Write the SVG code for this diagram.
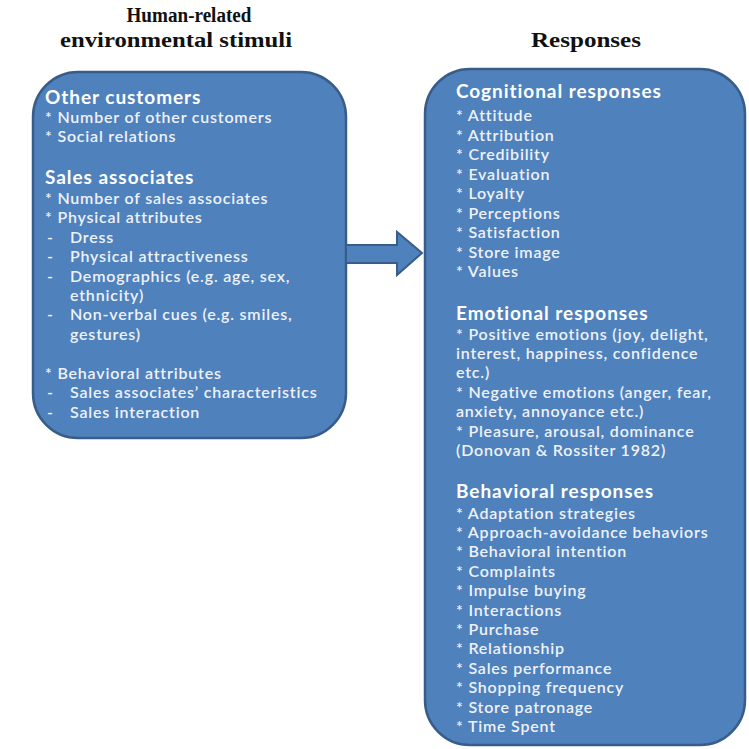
<svg xmlns="http://www.w3.org/2000/svg" width="749" height="749" viewBox="0 0 749 749">
<style>
.title{font-family:"Liberation Serif",serif;font-weight:bold;font-size:20.5px;fill:#111;text-anchor:middle}
.box{fill:#4f81bd;stroke:#385d8a;stroke-width:2.5}
.h{font-family:Lato,"Open Sans",sans-serif;font-weight:bold;font-size:19px;fill:#fff;letter-spacing:0.95px}
.t{font-family:Lato,"Open Sans",sans-serif;font-weight:600;font-size:16px;fill:#eef2f8;letter-spacing:0.8px}
</style>
<rect width="749" height="749" fill="#fff"/>
<g id="titles">
<text class="title" x="189" y="22" textLength="125" lengthAdjust="spacingAndGlyphs">Human-related</text>
<text class="title" x="176" y="47" textLength="232" lengthAdjust="spacingAndGlyphs">environmental stimuli</text>
<text class="title" x="586" y="47" textLength="110" lengthAdjust="spacingAndGlyphs">Responses</text>
</g>
<g id="stimuli">
<rect class="box" x="33" y="72" width="313" height="366" rx="45" ry="45"/>
<text class="h" x="45" y="104">Other customers</text>
<text class="t" x="45" y="123">* Number of other customers</text>
<text class="t" x="45" y="142">* Social relations</text>
<text class="h" x="45" y="184">Sales associates</text>
<text class="t" x="45" y="204">* Number of sales associates</text>
<text class="t" x="45" y="223">* Physical attributes</text>
<text class="t" x="47" y="243">-</text><text class="t" x="70" y="243">Dress</text>
<text class="t" x="47" y="262">-</text><text class="t" x="70" y="262">Physical attractiveness</text>
<text class="t" x="47" y="282">-</text><text class="t" x="70" y="282">Demographics (e.g. age, sex,</text>
<text class="t" x="70" y="301">ethnicity)</text>
<text class="t" x="47" y="320">-</text><text class="t" x="70" y="320">Non-verbal cues (e.g. smiles,</text>
<text class="t" x="70" y="340">gestures)</text>
<text class="t" x="45" y="379">* Behavioral attributes</text>
<text class="t" x="47" y="398">-</text><text class="t" x="70" y="398">Sales associates’ characteristics</text>
<text class="t" x="47" y="418">-</text><text class="t" x="70" y="418">Sales interaction</text>
</g>
<g id="connectors">
<polygon points="346,245 397,245 397,232 422,253 397,275 397,263 346,263" fill="#4f81bd" stroke="#385d8a" stroke-width="2"/>
</g>
<g id="responses">
<rect class="box" x="425" y="69" width="320" height="676" rx="45" ry="45"/>
<text class="h" x="456" y="98">Cognitional responses</text>
<text class="t" x="456" y="121">*  Attitude</text>
<text class="t" x="456" y="141">* Attribution</text>
<text class="t" x="456" y="160">* Credibility</text>
<text class="t" x="456" y="180">* Evaluation</text>
<text class="t" x="456" y="199">* Loyalty</text>
<text class="t" x="456" y="219">* Perceptions</text>
<text class="t" x="456" y="238">* Satisfaction</text>
<text class="t" x="456" y="258">* Store image</text>
<text class="t" x="456" y="277">* Values</text>
<text class="h" x="456" y="320">Emotional responses</text>
<text class="t" x="456" y="340">* Positive emotions (joy, delight,</text>
<text class="t" x="456" y="359">interest, happiness, confidence</text>
<text class="t" x="456" y="378">etc.)</text>
<text class="t" x="456" y="398">* Negative emotions (anger, fear,</text>
<text class="t" x="456" y="417">anxiety, annoyance etc.)</text>
<text class="t" x="456" y="437">* Pleasure, arousal, dominance</text>
<text class="t" x="456" y="456">(Donovan &amp; Rossiter 1982)</text>
<text class="h" x="456" y="498">Behavioral responses</text>
<text class="t" x="456" y="519">* Adaptation strategies</text>
<text class="t" x="456" y="538">* Approach-avoidance behaviors</text>
<text class="t" x="456" y="557">* Behavioral intention</text>
<text class="t" x="456" y="577">* Complaints</text>
<text class="t" x="456" y="596">* Impulse buying</text>
<text class="t" x="456" y="616">* Interactions</text>
<text class="t" x="456" y="635">* Purchase</text>
<text class="t" x="456" y="654">* Relationship</text>
<text class="t" x="456" y="674">* Sales performance</text>
<text class="t" x="456" y="693">* Shopping frequency</text>
<text class="t" x="456" y="713">* Store patronage</text>
<text class="t" x="456" y="732">* Time Spent</text>
</g>
</svg>
